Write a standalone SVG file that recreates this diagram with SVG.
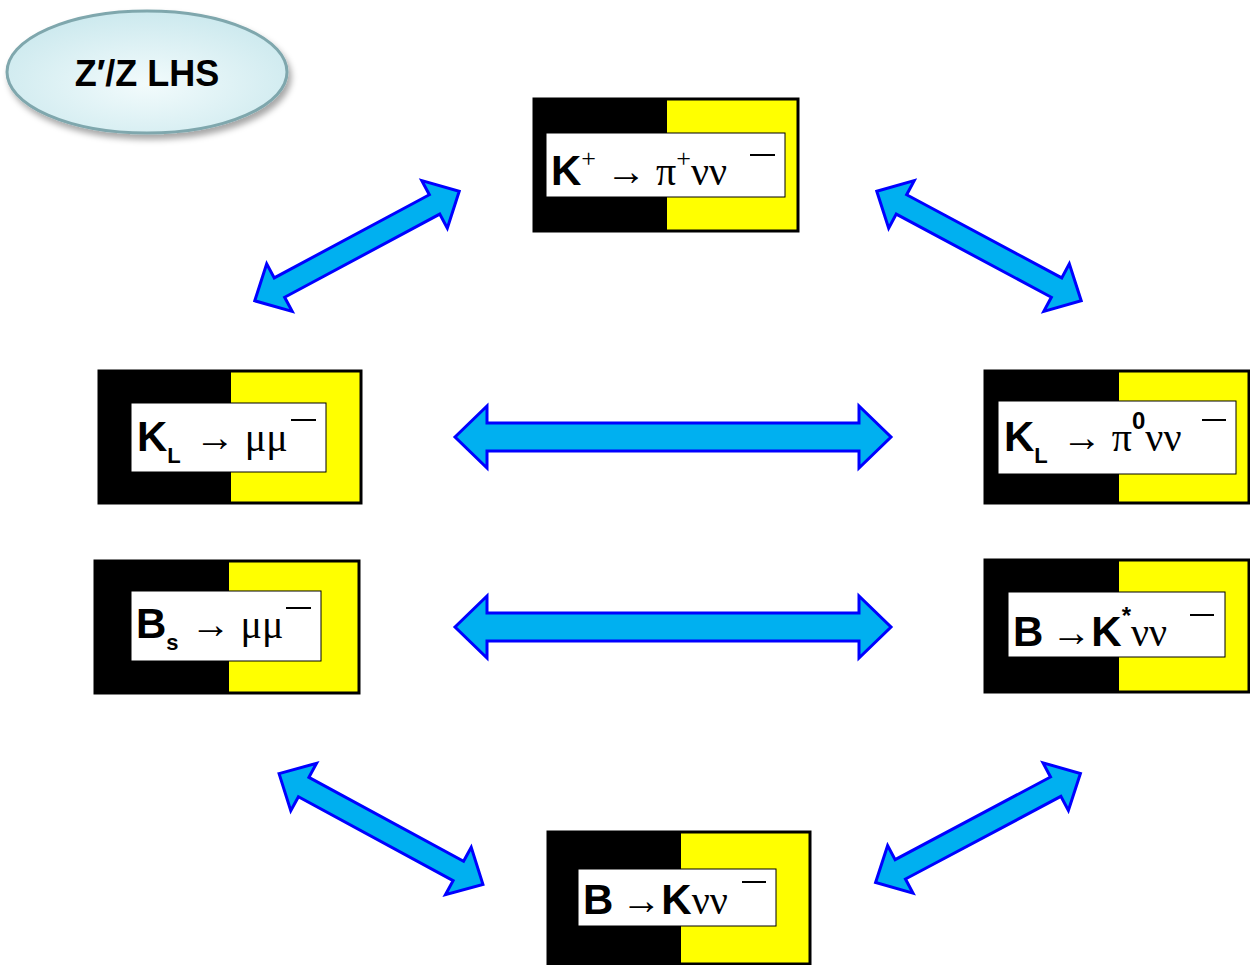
<svg xmlns="http://www.w3.org/2000/svg" width="1250" height="965" viewBox="0 0 1250 965">
<defs>
<radialGradient id="eg" cx="0.5" cy="0.6" r="0.6"><stop offset="0" stop-color="#f2fbfc"/><stop offset="1" stop-color="#cce9ee"/></radialGradient>
<filter id="sh" x="-20%" y="-20%" width="140%" height="150%"><feDropShadow dx="3" dy="5" stdDeviation="3" flood-color="#000" flood-opacity="0.35"/></filter>
<path id="ah" d="M-218,0 L-186,-31 L-186,-14 L186,-14 L186,-31 L218,0 L186,31 L186,14 L-186,14 L-186,31 Z"/>
<path id="ad" d="M-116,0 L-88,-27 L-88,-11 L88,-11 L88,-27 L116,0 L88,27 L88,11 L-88,11 L-88,27 Z"/>
</defs>
<style>
.ar{fill:#00B0F0;stroke:#0000FF;stroke-width:3;stroke-linejoin:miter}
.ob{stroke:#000;stroke-width:3}
.sf{font-family:"Liberation Sans",Arial,sans-serif;font-weight:bold;fill:#000}
.gr{font-family:"Liberation Serif","Times New Roman",serif;fill:#000}
</style>
<rect width="1250" height="965" fill="#fff"/>
<g id="label">
<ellipse cx="147" cy="72" rx="140" ry="61" fill="url(#eg)" stroke="#7fa7ad" stroke-width="3" filter="url(#sh)"/>
<text x="147" y="86" text-anchor="middle" class="sf" font-size="36">Z′/Z LHS</text>
</g>
<g id="connectors">
<use href="#ah" class="ar" transform="translate(673,437)"/>
<use href="#ah" class="ar" transform="translate(673,627)"/>
<use href="#ad" class="ar" transform="translate(357,246) rotate(-28.2)"/>
<use href="#ad" class="ar" transform="translate(979,246) rotate(28.2)"/>
<use href="#ad" class="ar" transform="translate(381,829) rotate(28.5)"/>
<use href="#ad" class="ar" transform="translate(978,828) rotate(-28)"/>
</g>
<g id="kplus">
<rect x="534" y="99" width="264" height="132" fill="#ffff00" class="ob"/>
<rect x="535" y="100" width="132" height="130" fill="#000"/>
<rect x="546" y="133" width="239" height="64" fill="#fff" stroke="#000" stroke-width="1"/>
<text x="551" y="185" class="sf" font-size="42">K<tspan class="gr" font-weight="normal" font-size="26" dy="-18">+</tspan><tspan class="gr" font-weight="normal" font-size="40" dy="18" dx="10">→ π</tspan><tspan class="gr" font-weight="normal" font-size="26" dy="-18">+</tspan><tspan class="gr" font-weight="normal" font-size="40" dy="18">νν</tspan></text>
<line x1="750" y1="155" x2="775" y2="155" stroke="#000" stroke-width="2"/>
</g>
<g id="klmumu">
<rect x="99" y="371" width="262" height="132" fill="#ffff00" class="ob"/>
<rect x="100" y="372" width="131" height="130" fill="#000"/>
<rect x="131" y="403" width="195" height="69" fill="#fff" stroke="#000" stroke-width="1"/>
<text x="137" y="451" class="sf" font-size="42">K<tspan font-size="22" dy="12">L</tspan><tspan class="gr" font-weight="normal" font-size="40" dy="-12" dx="14">→ μμ</tspan></text>
<line x1="291" y1="420" x2="316" y2="420" stroke="#000" stroke-width="2"/>
</g>
<g id="klpi0">
<rect x="985" y="371" width="264" height="132" fill="#ffff00" class="ob"/>
<rect x="986" y="372" width="133" height="130" fill="#000"/>
<rect x="998" y="401" width="238" height="73" fill="#fff" stroke="#000" stroke-width="1"/>
<text x="1004" y="451" class="sf" font-size="42">K<tspan font-size="22" dy="12">L</tspan><tspan class="gr" font-weight="normal" font-size="40" dy="-12" dx="14">→ π</tspan><tspan font-size="24" dy="-22">0</tspan><tspan class="gr" font-weight="normal" font-size="40" dy="22">νν</tspan></text>
<line x1="1202" y1="420" x2="1226" y2="420" stroke="#000" stroke-width="2"/>
</g>
<g id="bsmumu">
<rect x="95" y="561" width="264" height="132" fill="#ffff00" class="ob"/>
<rect x="96" y="562" width="133" height="130" fill="#000"/>
<rect x="131" y="591" width="190" height="70" fill="#fff" stroke="#000" stroke-width="1"/>
<text x="136" y="638" class="sf" font-size="42">B<tspan font-size="22" dy="12">s</tspan><tspan class="gr" font-weight="normal" font-size="40" dy="-12" dx="12">→ μμ</tspan></text>
<line x1="286" y1="608" x2="311" y2="608" stroke="#000" stroke-width="2"/>
</g>
<g id="bkstar">
<rect x="985" y="560" width="264" height="132" fill="#ffff00" class="ob"/>
<rect x="986" y="561" width="133" height="130" fill="#000"/>
<rect x="1008" y="592" width="217" height="65" fill="#fff" stroke="#000" stroke-width="1"/>
<text x="1013" y="646" class="sf" font-size="42">B<tspan class="gr" font-weight="normal" font-size="40" dx="8">→</tspan><tspan>K</tspan><tspan font-size="24" dy="-22">*</tspan><tspan class="gr" font-weight="normal" font-size="40" dy="22">νν</tspan></text>
<line x1="1190" y1="615" x2="1214" y2="615" stroke="#000" stroke-width="2"/>
</g>
<g id="bk">
<rect x="548" y="832" width="262" height="132" fill="#ffff00" class="ob"/>
<rect x="549" y="833" width="132" height="130" fill="#000"/>
<rect x="578" y="869" width="198" height="57" fill="#fff" stroke="#000" stroke-width="1"/>
<text x="583" y="914" class="sf" font-size="42">B<tspan class="gr" font-weight="normal" font-size="40" dx="8">→</tspan><tspan>K</tspan><tspan class="gr" font-weight="normal" font-size="40">νν</tspan></text>
<line x1="742" y1="882" x2="766" y2="882" stroke="#000" stroke-width="2"/>
</g>
</svg>
